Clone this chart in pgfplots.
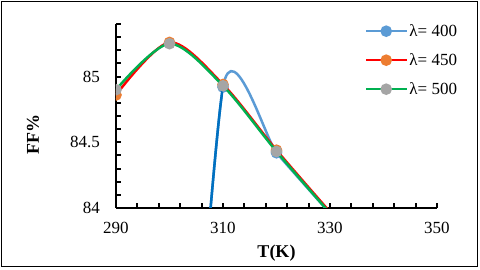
\documentclass[border=0pt]{standalone}
\usepackage{fontspec}
\setmainfont{Liberation Serif}
\usepackage{pgfplots}
\pgfplotsset{compat=1.18}
\definecolor{blueL}{HTML}{5B9BD5}
\definecolor{blueD}{HTML}{0070C0}
\definecolor{redL}{HTML}{FF0000}
\definecolor{orangeM}{HTML}{ED7D31}
\definecolor{greenL}{HTML}{00B050}
\definecolor{grayM}{HTML}{A5A5A5}
\begin{document}
\begin{tikzpicture}[x=1pt,y=1pt]
\useasboundingbox (0,0) rectangle (480,270);
\draw[line width=1.5pt] (1.5,3.5) rectangle (477.5,268.5);
\begin{axis}[
  at={(116pt,62pt)}, anchor=south west,
  scale only axis, width=321pt, height=184pt,
  xmin=290, xmax=350, ymin=84, ymax=85.4,
  axis lines=left,
  axis line style={-, line width=2.5pt, black},
  xtick={290,310,330,350},
  minor xtick={294,298,302,306,314,318,322,326,334,338,342,346},
  ytick={84,84.5,85},
  minor ytick={84.1,84.2,84.3,84.4,84.6,84.7,84.8,84.9,85.1,85.2,85.3,85.4},
  tick align=inside,
  major tick length=5pt, minor tick length=5pt,
  every tick/.style={black, line width=2pt},
  /pgf/number format/assume math mode=true,
  yticklabel style={font=\fontsize{17}{20}\selectfont, anchor=east, inner sep=0pt, xshift=-16pt},
  xticklabel style={font=\fontsize{17}{20}\selectfont, anchor=north, inner sep=0pt, yshift=-14pt},
  xlabel={\textbf{T(K)}},
  ylabel={\textbf{FF\%}},
  xlabel style={font=\fontsize{18}{21}\selectfont, at={(axis description cs:0.5,-0.2446)}, anchor=center},
  ylabel style={font=\fontsize{18}{21}\selectfont, at={(axis description cs:-0.2586,0.397)}, anchor=center},
  clip marker paths=true,
  legend style={at={(axis description cs:0.775,1.0)}, anchor=north west,
    draw=none, fill=none, inner sep=0pt, row sep=15pt, column sep=2pt,
    font=\fontsize{17}{20}\selectfont,
    nodes={inner sep=0pt, text height=12pt, text depth=2pt}},
  legend cell align=left,
  legend image code/.code={\draw[mark repeat=2, mark phase=2, #1] plot coordinates {(0pt,0pt) (20pt,0pt) (40pt,0pt)};},
]
\addplot[color=blueL, line width=2.5pt, smooth, tension=0.35, mark=*, mark size=4.5pt, mark options={fill=blueL, draw=blueL}]
  coordinates {(300,80) (310,84.92) (320,84.42) (330,83.96)};
\addlegendentry{λ= 400}
\begin{scope}
\clip (axis cs:290,83) rectangle (axis cs:310,86);
\addplot[color=blueD, line width=2.5pt, smooth, tension=0.35, forget plot]
  coordinates {(300,80) (310,84.92) (320,84.42) (330,83.96)};
\end{scope}
\addplot[color=redL, line width=2.5pt, smooth, mark=*, mark size=4.5pt, mark options={fill=orangeM, draw=orangeM}]
  coordinates {(290,84.86) (300,85.26) (310,84.94) (320,84.44) (330,83.97)};
\addlegendentry{λ= 450}
\addplot[color=greenL, line width=2.5pt, smooth, mark=*, mark size=4.5pt, mark options={fill=grayM, draw=grayM}]
  coordinates {(290,84.90) (300,85.25) (310,84.93) (320,84.43) (330,83.96)};
\addlegendentry{λ= 500}
\end{axis}
\end{tikzpicture}
\end{document}
